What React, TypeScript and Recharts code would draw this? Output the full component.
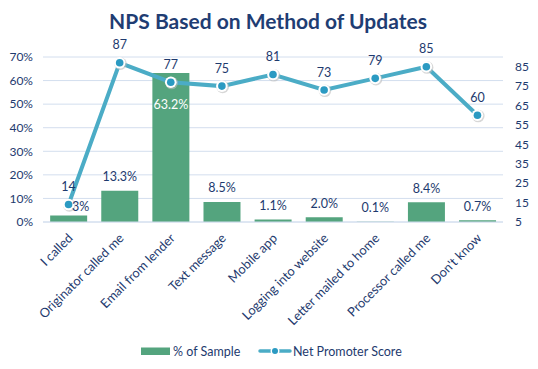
import React from 'react';
import { ComposedChart, Bar, Line, XAxis, YAxis, CartesianGrid, LabelList, Legend } from 'recharts';

const categories = [
  'I called',
  'Originator called me',
  'Email from lender',
  'Text message',
  'Mobile app',
  'Logging into website',
  'Letter mailed to home',
  'Processor called me',
  "Don't know",
];
const sampleShare = [2.8, 13.3, 63.2, 8.5, 1.1, 2.0, 0.1, 8.4, 0.7];
const sampleLabels = ['3%', '13.3%', '63.2%', '8.5%', '1.1%', '2.0%', '0.1%', '8.4%', '0.7%'];
const npsScores = [14, 87, 77, 75, 81, 73, 79, 85, 60];
const leftTicks = [0, 10, 20, 30, 40, 50, 60, 70];
const rightTicks = [5, 15, 25, 35, 45, 55, 65, 75, 85];

const data = categories.map((name, i) => ({ name, share: sampleShare[i], nps: npsScores[i] }));

const FONT = 'Lato, "Open Sans", sans-serif';
const NAVY = '#1E3A6E';
const TITLE = '#1F3D73';
const GREEN = '#54A47E';
const LINE = '#4BACC6';
const DOT = '#2B9AC2';
const GRID = '#D3DEEE';

const XTick = (props: any) => {
  const { x, y, payload } = props;
  const ax = x + 5;
  const ay = y + 9;
  return (
    <text
      x={ax}
      y={ay}
      transform={`rotate(-45 ${ax} ${ay})`}
      textAnchor="end"
      fill={NAVY}
      fontSize={12.8}
      fontFamily={FONT}
    >
      {payload.value}
    </text>
  );
};

const BarLabel = (props: any) => {
  const { x, y, width, height, index } = props;
  const cx = x + width / 2;
  const text = sampleLabels[index];
  if (height > 60) {
    return (
      <text x={cx} y={y + 31} fill="#fff" textAnchor="middle" dominantBaseline="central" fontSize={12.5} fontFamily={FONT}>
        {text}
      </text>
    );
  }
  const shift = index === 0 ? 12 : 0;
  const up = index === 0 ? 9 : 14;
  return (
    <text x={cx + shift} y={y - up} fill={NAVY} textAnchor="middle" dominantBaseline="central" fontSize={12.5} fontFamily={FONT}>
      {text}
    </text>
  );
};

const LineLabel = (props: any) => {
  const { x, y, value } = props;
  return (
    <text x={x} y={y - 18} fill={NAVY} textAnchor="middle" dominantBaseline="central" fontSize={12.5} fontFamily={FONT}>
      {value}
    </text>
  );
};

const Dot = (props: any) => {
  const { cx, cy, index } = props;
  return (
    <g key={`dot-${index}`}>
      <circle cx={cx + 0.8} cy={cy + 0.8} r={6.3} fill="#BDBDBD" opacity={0.6} />
      <circle cx={cx} cy={cy} r={5.8} fill="#FFFFFF" />
      <circle cx={cx} cy={cy} r={3.8} fill={DOT} />
    </g>
  );
};

const LegendContent = () => (
  <svg width={538} height={20}>
    <rect x={141} y={6.5} width={29} height={7.5} fill={GREEN} />
    <text x={173} y={10} dominantBaseline="central" fill={NAVY} fontSize={12.5} fontFamily={FONT}>
      % of Sample
    </text>
    <line x1={260} x2={290} y1={10} y2={10} stroke={LINE} strokeWidth={3.5} strokeLinecap="round" />
    <circle cx={275} cy={10} r={4.5} fill="#FFFFFF" />
    <circle cx={275} cy={10} r={3} fill={DOT} />
    <text x={293} y={10} dominantBaseline="central" fill={NAVY} fontSize={12.5} fontFamily={FONT}>
      Net Promoter Score
    </text>
  </svg>
);

export default function App() {
  return (
    <div style={{ position: 'absolute', left: 0, top: 0, width: 538, height: 369, background: '#fff' }}>
      <svg width={538} height={40} style={{ position: 'absolute', left: 0, top: 0 }}>
        <text x={268} y={29} textAnchor="middle" fill={TITLE} fontSize={21} fontWeight={700} fontFamily={FONT}>
          NPS Based on Method of Updates
        </text>
      </svg>
      <ComposedChart
        width={538}
        height={369}
        data={data}
        margin={{ top: 57, right: 0, bottom: 17, left: 0 }}
        barCategoryGap="14%"
      >
        <CartesianGrid yAxisId="left" vertical={false} stroke={GRID} strokeWidth={1} />
        <XAxis
          dataKey="name"
          interval={0}
          height={110}
          tick={<XTick />}
          tickLine={false}
          axisLine={{ stroke: GRID, strokeWidth: 1 }}
        />
        <YAxis
          yAxisId="left"
          domain={[0, 70]}
          ticks={leftTicks}
          interval={0}
          tickFormatter={(v: number) => `${v}%`}
          width={43}
          axisLine={false}
          tickLine={false}
          tickMargin={4}
          tick={{ fill: NAVY, fontSize: 12, fontFamily: FONT }}
        />
        <YAxis
          yAxisId="right"
          orientation="right"
          domain={[5, 90]}
          ticks={rightTicks}
          interval={0}
          width={35}
          axisLine={false}
          tickLine={false}
          tickMargin={6}
          tick={{ fill: NAVY, fontSize: 12, fontFamily: FONT, textAnchor: 'start' }}
        />
        <Bar yAxisId="left" dataKey="share" fill={GREEN} isAnimationActive={false}>
          <LabelList dataKey="share" content={<BarLabel />} />
        </Bar>
        <Line
          yAxisId="right"
          dataKey="nps"
          stroke={LINE}
          strokeWidth={4}
          dot={Dot}
          activeDot={false}
          isAnimationActive={false}
        >
          <LabelList dataKey="nps" content={<LineLabel />} />
        </Line>
        <Legend
          content={<LegendContent />}
          wrapperStyle={{ position: 'absolute', left: 0, top: 341, width: 538, height: 20 }}
        />
      </ComposedChart>
    </div>
  );
}
